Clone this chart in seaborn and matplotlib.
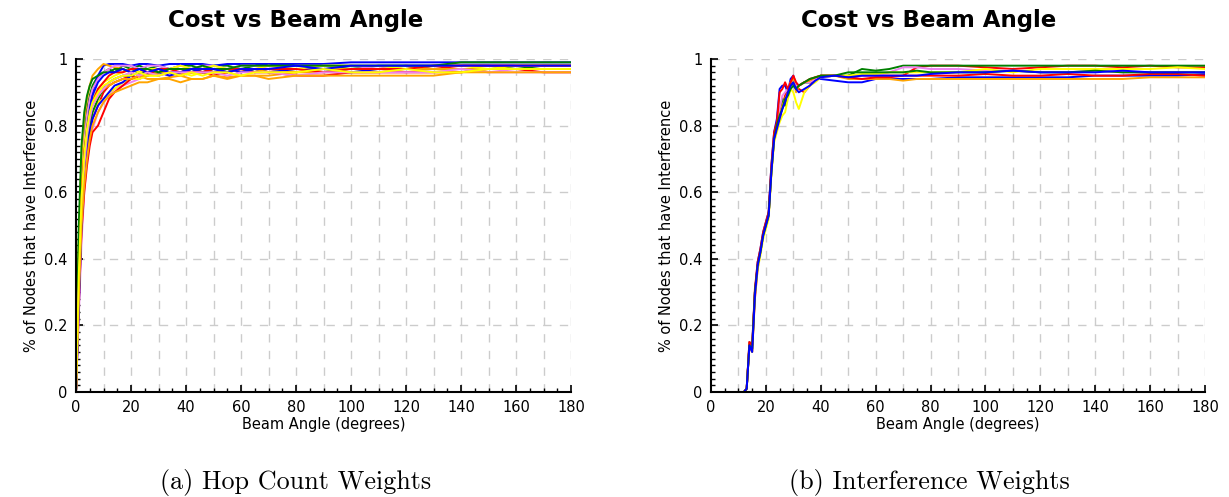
import matplotlib
matplotlib.use('Agg')
import matplotlib.pyplot as plt
import matplotlib.ticker as mticker
import pandas as pd
import numpy as np
import seaborn as sns

# gnuplot-ish colour order
farbe = ['red', 'green', 'blue', 'violet', 'orange', 'yellow']

# (a) hop count weights: beam angle points
hop_x = [0, 1, 2, 3, 4, 5, 6, 8, 10, 12, 14, 17, 20, 23, 26, 30, 34, 38, 42, 46,
         50, 55, 60, 65, 70, 80, 90, 100, 110, 120, 130, 140, 150, 160, 170, 180]

hop_1 = [0, .30, .52, .64, .72, .78, .82, .86, .90, .92, .93, .94, .95, .94, .96, .95, .96, .95, .96, .96,
         .95, .96, .97, .96, .97, .96, .97, .97, .97, .98, .97, .98, .98, .98, .98, .98]
hop_2 = [0, .42, .66, .78, .85, .89, .92, .95, .96, .97, .96, .98, .97, .98, .97, .98, .97, .98, .98, .97,
         .98, .98, .97, .98, .98, .98, .98, .97, .98, .98, .98, .98, .98, .97, .98, .98]
hop_3 = [0, .35, .58, .72, .80, .86, .90, .95, .98, .985, .985, .985, .98, .985, .985, .98, .985, .985, .985, .985,
         .98, .985, .985, .985, .985, .985, .985, .99, .99, .99, .99, .99, .99, .99, .99, .99]
hop_4 = [0, .22, .45, .60, .70, .75, .79, .84, .87, .89, .91, .92, .93, .94, .95, .96, .95, .96, .96, .97,
         .97, .96, .97, .97, .96, .97, .97, .97, .97, .96, .97, .97, .96, .97, .97, .97]
hop_5 = [0, .45, .70, .82, .88, .92, .95, .97, .985, .98, .975, .97, .96, .95, .94, .94, .945, .95, .94, .94,
         .95, .945, .95, .95, .95, .96, .96, .96, .96, .97, .97, .97, .97, .97, .97, .97]
hop_6 = [0, .30, .55, .68, .76, .81, .84, .87, .88, .90, .91, .93, .94, .94, .95, .95, .96, .96, .95, .96,
         .96, .97, .96, .97, .96, .97, .97, .96, .97, .97, .97, .96, .97, .97, .97, .97]
hop_7 = [0, .25, .48, .60, .68, .74, .78, .80, .84, .88, .90, .92, .94, .95, .96, .96, .97, .97, .96, .97,
         .96, .96, .97, .96, .96, .95, .95, .96, .96, .96, .96, .96, .97, .97, .96, .96]
hop_8 = [0, .28, .52, .65, .74, .80, .84, .88, .91, .93, .94, .95, .95, .96, .96, .97, .96, .96, .97, .96,
         .97, .97, .96, .97, .97, .97, .97, .97, .97, .97, .97, .97, .97, .97, .97, .97]
hop_9 = [0, .25, .50, .64, .72, .78, .82, .86, .88, .90, .92, .93, .95, .96, .95, .96, .95, .96, .97, .96,
         .96, .97, .96, .97, .96, .97, .97, .96, .97, .97, .98, .98, .98, .98, .98, .98]
hop_10 = [0, .38, .62, .75, .83, .88, .91, .94, .96, .97, .98, .98, .98, .97, .98, .98, .97, .98, .97, .98,
          .98, .97, .98, .98, .97, .98, .98, .98, .97, .98, .98, .98, .98, .98, .98, .98]
hop_11 = [0, .33, .57, .70, .78, .83, .86, .89, .91, .92, .93, .94, .94, .95, .95, .96, .96, .96, .96, .96,
          .96, .96, .97, .97, .96, .96, .97, .97, .97, .97, .97, .97, .97, .97, .97, .97]
hop_12 = [0, .40, .62, .74, .80, .85, .88, .91, .93, .94, .95, .96, .97, .96, .97, .97, .97, .98, .97, .97,
          .98, .97, .97, .97, .98, .97, .98, .98, .98, .97, .98, .98, .97, .98, .98, .98]
hop_13 = [0, .38, .60, .72, .79, .84, .87, .91, .93, .95, .96, .96, .97, .97, .96, .97, .97, .96, .96, .96,
          .97, .97, .97, .97, .97, .97, .96, .97, .97, .97, .98, .98, .98, .98, .98, .98]
hop_14 = [0, .50, .74, .84, .89, .92, .94, .95, .96, .96, .97, .97, .96, .97, .97, .96, .97, .97, .97, .98,
          .97, .97, .98, .98, .98, .98, .98, .98, .98, .98, .98, .99, .99, .99, .99, .99]
hop_15 = [0, .30, .55, .70, .79, .85, .89, .93, .95, .96, .96, .97, .96, .97, .96, .97, .96, .96, .97, .97,
          .97, .96, .97, .97, .97, .98, .97, .98, .98, .98, .98, .98, .98, .98, .98, .98]
hop_16 = [0, .30, .54, .68, .77, .82, .86, .89, .91, .93, .94, .95, .96, .95, .96, .95, .96, .96, .96, .96,
          .96, .95, .96, .96, .96, .95, .96, .96, .96, .96, .96, .97, .96, .96, .96, .96]
hop_17 = [0, .28, .50, .62, .70, .76, .80, .84, .87, .89, .90, .91, .92, .93, .93, .94, .94, .93, .94, .94,
          .95, .94, .95, .95, .94, .95, .95, .95, .95, .95, .95, .96, .96, .96, .96, .96]
hop_18 = [0, .35, .58, .71, .79, .84, .87, .90, .92, .93, .94, .95, .95, .96, .95, .95, .96, .95, .96, .95,
          .96, .96, .95, .96, .96, .96, .97, .96, .96, .97, .96, .96, .97, .97, .97, .97]

# (b) interference weights
int_x = [0, 12, 13, 14, 15, 16, 17, 18, 19, 20, 21, 22, 23, 24, 25, 26, 27, 28, 29, 30, 31, 32,
         34, 36, 38, 40, 45, 50, 55, 60, 65, 70, 75, 80, 90, 100, 110, 120, 130, 140, 150, 160, 170, 180]

int_1 = [0, 0, .01, .14, .12, .28, .37, .42, .47, .50, .53, .66, .76, .79, .82, .86, .89, .91, .92, .93, .92, .91,
         .90, .92, .94, .945, .95, .945, .95, .95, .95, .95, .975, .98, .98, .975, .97, .975, .98, .98, .975, .98, .975, .975]
int_2 = [0, 0, .01, .14, .13, .30, .38, .42, .47, .50, .53, .67, .77, .80, .84, .88, .86, .90, .92, .93, .92, .92,
         .93, .93, .94, .95, .95, .95, .97, .965, .97, .98, .98, .98, .98, .98, .98, .98, .98, .98, .98, .98, .98, .98]
int_3 = [0, 0, .01, .15, .14, .30, .39, .43, .48, .51, .54, .68, .78, .82, .91, .92, .92, .90, .94, .95, .92, .92,
         .93, .93, .94, .94, .935, .93, .93, .94, .94, .94, .94, .94, .945, .945, .945, .945, .945, .95, .95, .95, .95, .955]
int_4 = [0, 0, .01, .14, .13, .30, .38, .42, .47, .50, .53, .67, .77, .80, .85, .89, .90, .91, .93, .94, .92, .92,
         .93, .93, .94, .945, .95, .945, .95, .95, .96, .975, .975, .97, .97, .965, .965, .96, .96, .965, .96, .96, .96, .96]
int_5 = [0, 0, .01, .15, .13, .29, .38, .42, .47, .50, .53, .66, .76, .79, .83, .86, .88, .90, .93, .94, .90, .92,
         .93, .935, .945, .95, .95, .94, .94, .94, .94, .935, .94, .94, .94, .94, .94, .94, .94, .94, .94, .945, .945, .945]
int_6 = [0, 0, .01, .14, .12, .29, .37, .41, .46, .49, .52, .65, .75, .78, .81, .83, .84, .88, .91, .90, .87, .85,
         .90, .92, .93, .945, .95, .95, .955, .955, .96, .96, .96, .96, .96, .97, .96, .97, .97, .97, .97, .97, .975, .97]
int_7 = [0, 0, .01, .15, .14, .31, .39, .43, .48, .51, .54, .68, .78, .81, .90, .91, .93, .91, .93, .95, .93, .92,
         .93, .94, .945, .95, .95, .945, .94, .945, .945, .95, .95, .95, .95, .955, .95, .95, .955, .95, .95, .955, .955, .95]
int_8 = [0, 0, .01, .14, .13, .30, .38, .42, .47, .50, .53, .66, .76, .80, .83, .85, .88, .89, .91, .92, .91, .92,
         .93, .94, .945, .95, .95, .96, .96, .96, .96, .96, .965, .96, .96, .96, .965, .96, .96, .965, .96, .96, .96, .96]
int_9 = [0, 0, .01, .14, .12, .29, .38, .42, .47, .50, .53, .66, .76, .79, .82, .85, .87, .90, .92, .93, .91, .90,
         .91, .92, .935, .945, .95, .945, .95, .95, .95, .95, .95, .955, .96, .96, .965, .96, .96, .96, .965, .96, .96, .96]

hop_kurven = [hop_1, hop_2, hop_3, hop_4, hop_5, hop_6, hop_7, hop_8, hop_9,
              hop_10, hop_11, hop_12, hop_13, hop_14, hop_15, hop_16, hop_17, hop_18]
int_kurven = [int_1, int_2, int_3, int_4, int_5, int_6, int_7, int_8, int_9]


def lang(xs, kurven):
    teile = []
    for i, ys in enumerate(kurven):
        teile.append(pd.DataFrame({'x': xs, 'y': ys, 'lauf': i}))
    return pd.concat(teile, ignore_index=True)


hop_df = lang(hop_x, hop_kurven)
int_df = lang(int_x, int_kurven)

sns.set_style('ticks')
plt.rcParams['font.family'] = ['DejaVu Sans']
plt.rcParams['text.color'] = 'black'
plt.rcParams['axes.labelcolor'] = 'black'
plt.rcParams['xtick.color'] = 'black'
plt.rcParams['ytick.color'] = 'black'

fig = plt.figure(figsize=(12.29, 4.97), dpi=100)
ax1 = fig.add_axes([76 / 1229, 1 - 392 / 497, 495 / 1229, 333 / 497])
ax2 = fig.add_axes([711 / 1229, 1 - 392 / 497, 494 / 1229, 333 / 497])

for ax, df, n, caption, mitte in [(ax1, hop_df, len(hop_kurven), '(a) Hop Count Weights', 296),
                                  (ax2, int_df, len(int_kurven), '(b) Interference Weights', 929)]:
    pal = [farbe[i % 6] for i in range(n)]
    sns.lineplot(data=df, x='x', y='y', hue='lauf', palette=pal, legend=False,
                 linewidth=1.4, ax=ax, estimator=None, sort=False)
    ax.set_xlim(0, 180)
    ax.set_ylim(0, 1)
    ax.xaxis.set_major_locator(mticker.MultipleLocator(20))
    ax.xaxis.set_minor_locator(mticker.MultipleLocator(5))
    ax.yaxis.set_major_locator(mticker.MultipleLocator(0.2))
    ax.yaxis.set_minor_locator(mticker.MultipleLocator(0.02))
    ax.yaxis.set_major_formatter(mticker.FuncFormatter(lambda v, p: '%g' % round(v, 2)))
    ax.tick_params(which='major', direction='in', length=5, width=1.2, labelsize=10.5, pad=6,
                   bottom=True, left=True, top=False, right=False)
    ax.tick_params(which='minor', direction='in', length=3, width=1.0,
                   bottom=True, left=True, top=False, right=False)
    # gnuplot grid: every 10 degrees, every 0.2
    for gx in range(10, 181, 10):
        ax.axvline(gx, color='#cccccc', lw=1, ls=(0, (6, 6)), zorder=0)
    for gy in [0.2, 0.4, 0.6, 0.8, 1.0]:
        ax.axhline(gy, color='#cccccc', lw=1, ls=(0, (6, 6)), zorder=0)
    for s in ['top', 'right']:
        ax.spines[s].set_visible(False)
    for s in ['left', 'bottom']:
        ax.spines[s].set_linewidth(1.5)
        ax.spines[s].set_color('black')
    ax.set_xlabel('Beam Angle (degrees)', fontsize=10.5, labelpad=1)
    ax.set_ylabel('% of Nodes that have Interference', fontsize=10.5, labelpad=4)
    fig.text(mitte / 1229, 1 - 20 / 497, 'Cost vs Beam Angle', ha='center', va='center',
             fontsize=16.5, fontweight='bold')
    fig.text(mitte / 1229, 1 - 482 / 497, caption, ha='center', va='center',
             fontsize=18.8, family='cmr10')

fig.savefig('out.png', dpi=100)
